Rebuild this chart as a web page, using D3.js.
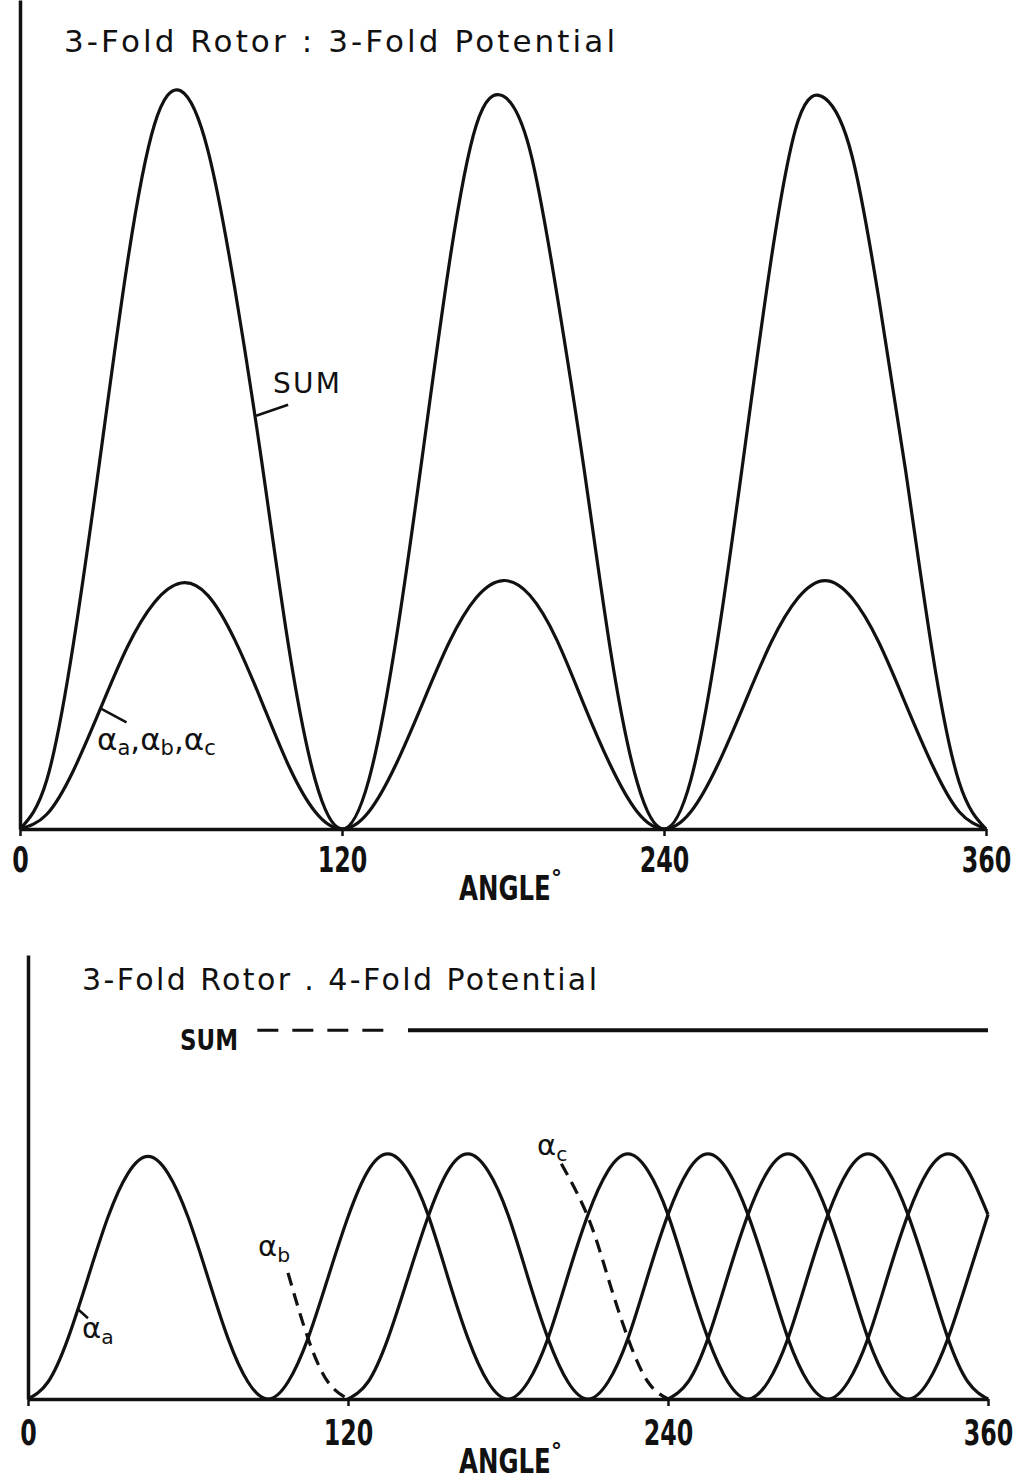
<!DOCTYPE html>
<html>
<head>
<meta charset="utf-8">
<script src="https://cdn.jsdelivr.net/npm/d3@7"></script>
<style>
  html, body { margin: 0; padding: 0; background: #fff; }
  svg { display: block; }
  text { font-family: "DejaVu Sans", "Noto Sans", sans-serif; fill: #111; }
</style>
</head>
<body>
<svg id="chart" width="1021" height="1480"></svg>
<script>
// ---- values ----
const tickAngles = [0, 120, 240, 360];

// upper panel: 3-fold rotor, 3-fold potential (alpha_a = alpha_b = alpha_c)
const angles3 = [0, 10, 20, 30, 40, 50, 60, 70, 80, 90, 100, 110, 120,
  130, 140, 150, 160, 170, 180, 190, 200, 210, 220, 230, 240,
  250, 260, 270, 280, 290, 300, 310, 320, 330, 340, 350, 360];
const alpha3 = [0, 0.06, 0.24, 0.49, 0.74, 0.92, 1.0, 0.95, 0.77, 0.52, 0.26, 0.07, 0,
  0.07, 0.26, 0.51, 0.76, 0.94, 1.01, 0.95, 0.77, 0.51, 0.26, 0.07, 0,
  0.07, 0.26, 0.51, 0.76, 0.94, 1.01, 0.94, 0.76, 0.51, 0.26, 0.07, 0];
const sum3 = [0, 0.2, 0.76, 1.52, 2.3, 2.86, 3.0, 2.76, 2.2, 1.5, 0.75, 0.2, 0,
  0.2, 0.76, 1.52, 2.3, 2.86, 2.98, 2.76, 2.18, 1.48, 0.73, 0.19, 0,
  0.2, 0.77, 1.54, 2.32, 2.88, 2.97, 2.74, 2.16, 1.46, 0.72, 0.19, 0];

// lower panel: 3-fold rotor, 4-fold potential
const anglesA4 = [0, 7.5, 15, 22.5, 30, 37.5, 45, 52.5, 60, 67.5, 75, 82.5,
  90, 97.5, 105, 112.5, 120, 127.5, 135, 142.5, 150, 157.5, 165, 172.5,
  180, 187.5, 195, 202.5, 210, 217.5, 225, 232.5, 240, 247.5, 255, 262.5,
  270, 277.5, 285, 292.5, 300, 307.5, 315, 322.5, 330, 337.5, 345, 352.5, 360];
const alphaA4 = [0, 0.07, 0.25, 0.5, 0.75, 0.93, 1.0, 0.93, 0.75, 0.5, 0.25, 0.07,
  0, 0.07, 0.25, 0.5, 0.75, 0.94, 1.01, 0.94, 0.76, 0.5, 0.25, 0.07,
  0, 0.07, 0.25, 0.51, 0.76, 0.94, 1.01, 0.94, 0.76, 0.5, 0.25, 0.07,
  0, 0.07, 0.25, 0.51, 0.76, 0.94, 1.01, 0.94, 0.76, 0.51, 0.25, 0.07, 0];
const anglesB4 = [120, 127.5, 135, 142.5, 150, 157.5, 165, 172.5,
  180, 187.5, 195, 202.5, 210, 217.5, 225, 232.5, 240, 247.5, 255, 262.5,
  270, 277.5, 285, 292.5, 300, 307.5, 315, 322.5, 330, 337.5, 345, 352.5, 360];
const alphaB4 = [0, 0.07, 0.25, 0.5, 0.75, 0.94, 1.01, 0.94,
  0.76, 0.5, 0.25, 0.07, 0, 0.07, 0.25, 0.51, 0.76, 0.94, 1.01, 0.94,
  0.76, 0.51, 0.25, 0.07, 0, 0.07, 0.25, 0.51, 0.76, 0.94, 1.01, 0.94, 0.76];
const anglesC4 = [240, 247.5, 255, 262.5, 270, 277.5, 285, 292.5,
  300, 307.5, 315, 322.5, 330, 337.5, 345, 352.5, 360];
const alphaC4 = [0, 0.07, 0.25, 0.51, 0.76, 0.94, 1.01, 0.94,
  0.76, 0.51, 0.25, 0.07, 0, 0.07, 0.25, 0.5, 0.76];
const anglesB4Dashed = [97.5, 105, 112.5, 120];
const alphaB4Dashed = [0.52, 0.25, 0.07, 0];
const anglesC4Dashed = [200, 210, 217.5, 225, 232.5, 240];
const alphaC4Dashed = [0.97, 0.75, 0.5, 0.25, 0.07, 0];
const sum4Level = 1.52;
const sum4DashedAngles = [86, 134];
const sum4SolidAngles = [142.5, 360];

const ink = "#111";
const svg = d3.select("#chart");
svg.append("rect").attr("width", 1021).attr("height", 1480).attr("fill", "#fff");

function zip(xs, ys) {
  return xs.map((a, i) => [a, ys[i]]);
}

// narrow bold lettering: squeeze the glyphs horizontally
function narrowText(g, x, y, str, size, squeeze) {
  return g.append("text")
    .attr("transform", `translate(${x},${y}) scale(${squeeze},1)`)
    .style("font-size", size + "px").style("font-weight", "bold")
    .text(str);
}

function drawAxes(g, x, y, labelOffset, angleBaseline) {
  const gx = g.append("g").attr("transform", `translate(0,${y(0)})`)
    .call(d3.axisBottom(x).tickValues(tickAngles).tickSize(7).tickSizeOuter(0));
  gx.select(".domain").attr("stroke", ink).attr("stroke-width", 3.5);
  gx.selectAll(".tick line").attr("stroke", ink).attr("stroke-width", 2.5);
  gx.selectAll(".tick text")
    .attr("y", labelOffset).attr("dy", 0)
    .attr("transform", "scale(0.66,1)")
    .attr("fill", ink)
    .style("font-size", "36px").style("font-weight", "bold");

  const gy = g.append("g").attr("transform", `translate(${x(0)},0)`)
    .call(d3.axisLeft(y).tickValues([]).tickSizeOuter(0));
  gy.select(".domain").attr("stroke", ink).attr("stroke-width", 3.5);

  narrowText(g, 459, angleBaseline, "ANGLE", 34, 0.72);
  g.append("text").attr("x", 551).attr("y", angleBaseline - 15)
    .style("font-size", "22px").style("font-weight", "bold")
    .text("°");
}

function drawCurve(g, line, pts, dash) {
  g.append("path").datum(pts).attr("d", line)
    .attr("fill", "none").attr("stroke", ink).attr("stroke-width", 3.2)
    .attr("stroke-linejoin", "round")
    .attr("stroke-dasharray", dash || null);
}

function alphaLabel(g, x, y, sub, size) {
  const t = g.append("text").attr("x", x).attr("y", y).style("font-size", size + "px");
  t.append("tspan").text("α");
  t.append("tspan").text(sub).attr("dy", size * 0.2).style("font-size", (size * 0.7) + "px");
  return t;
}

// ---- upper panel ----
const upper = svg.append("g");
const x3 = d3.scaleLinear().domain([0, 360]).range([20, 986]);
const y3 = d3.scaleLinear().domain([0, 3.37]).range([829, 0]);
const line3 = d3.line().x((d) => x3(d[0])).y((d) => y3(d[1])).curve(d3.curveNatural);

drawAxes(upper, x3, y3, 43, 900);
drawCurve(upper, line3, zip(angles3, alpha3));
drawCurve(upper, line3, zip(angles3, sum3));

upper.append("text").attr("x", 64).attr("y", 52)
  .attr("textLength", 551).attr("lengthAdjust", "spacing")
  .style("font-size", "31px")
  .text("3-Fold Rotor : 3-Fold Potential");

// SUM label with leader
upper.append("line")
  .attr("x1", x3(88)).attr("y1", y3(1.68))
  .attr("x2", x3(88) + 32).attr("y2", y3(1.68) - 11)
  .attr("stroke", ink).attr("stroke-width", 2.5);
upper.append("text").attr("x", 273).attr("y", 393)
  .attr("textLength", 67).attr("lengthAdjust", "spacing")
  .style("font-size", "28px").text("SUM");

// alpha label with leader
upper.append("line")
  .attr("x1", x3(30)).attr("y1", y3(0.49))
  .attr("x2", x3(30) + 26).attr("y2", y3(0.49) + 14)
  .attr("stroke", ink).attr("stroke-width", 2.5);
{
  const t = upper.append("text").attr("x", 97).attr("y", 750).style("font-size", "31px");
  [["a", ","], ["b", ","], ["c", ""]].forEach(([s, sep]) => {
    t.append("tspan").text("α");
    t.append("tspan").text(s).attr("dy", 5).style("font-size", "21px");
    t.append("tspan").text(sep).attr("dy", -5);
  });
}

// ---- lower panel ----
const lower = svg.append("g");
const x4 = d3.scaleLinear().domain([0, 360]).range([28, 988]);
const y4 = d3.scaleLinear().domain([0, 1.83]).range([1399, 955]);
const line4 = d3.line().x((d) => x4(d[0])).y((d) => y4(d[1])).curve(d3.curveNatural);

drawAxes(lower, x4, y4, 46, 1473);
drawCurve(lower, line4, zip(anglesA4, alphaA4));
drawCurve(lower, line4, zip(anglesB4, alphaB4));
drawCurve(lower, line4, zip(anglesC4, alphaC4));
drawCurve(lower, line4, zip(anglesB4Dashed, alphaB4Dashed), "13,8");
drawCurve(lower, line4, zip(anglesC4Dashed, alphaC4Dashed), "13,8");

lower.append("text").attr("x", 82).attr("y", 990)
  .attr("textLength", 515).attr("lengthAdjust", "spacing")
  .style("font-size", "30px")
  .text("3-Fold Rotor . 4-Fold Potential");

// SUM level
lower.append("line")
  .attr("x1", x4(sum4DashedAngles[0])).attr("x2", x4(sum4DashedAngles[1]))
  .attr("y1", y4(sum4Level)).attr("y2", y4(sum4Level))
  .attr("stroke", ink).attr("stroke-width", 3).attr("stroke-dasharray", "21,14");
lower.append("line")
  .attr("x1", x4(sum4SolidAngles[0])).attr("x2", x4(sum4SolidAngles[1]))
  .attr("y1", y4(sum4Level)).attr("y2", y4(sum4Level))
  .attr("stroke", ink).attr("stroke-width", 4);
narrowText(lower, 180, 1050, "SUM", 28, 0.82);

// alpha labels
lower.append("line")
  .attr("x1", x4(18.75)).attr("y1", y4(0.37))
  .attr("x2", x4(18.75) + 10).attr("y2", y4(0.37) + 9)
  .attr("stroke", ink).attr("stroke-width", 2.5);
alphaLabel(lower, 82, 1338, "a", 29);
alphaLabel(lower, 258, 1256, "b", 29);
alphaLabel(lower, 537, 1155, "c", 29);
</script>
</body>
</html>
